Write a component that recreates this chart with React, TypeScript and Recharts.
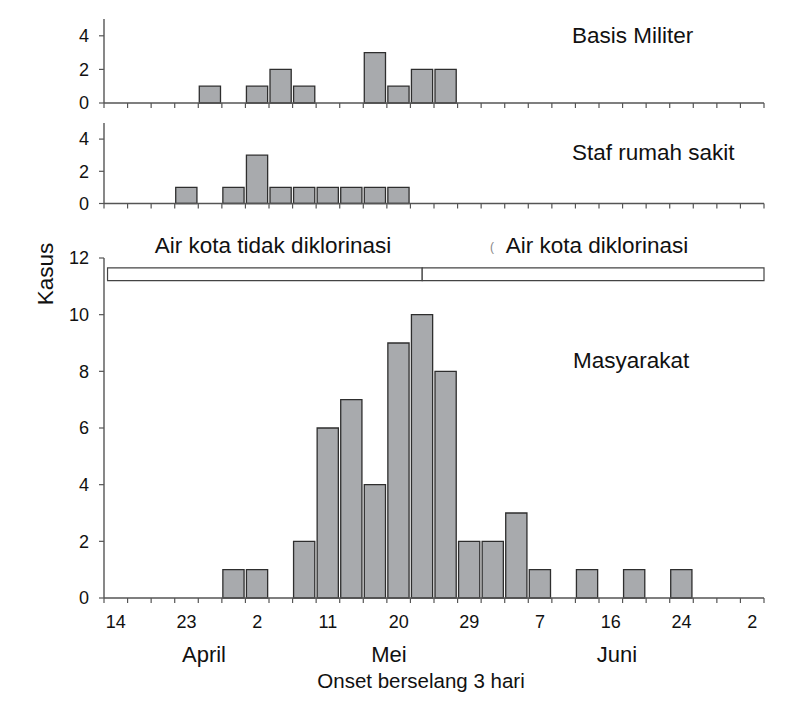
import React from 'react'
import { BarChart, Bar, XAxis, YAxis, ReferenceArea } from 'recharts'

// 3-day onset bins, 14 April .. early July
const BIN_COUNT = 28
const tickLabels = ['14', '23', '2', '11', '20', '29', '7', '16', '24', '2']
const monthLabels = ['April', 'Mei', 'Juni']

const militer = [0, 0, 0, 0, 1, 0, 1, 2, 1, 0, 0, 3, 1, 2, 2, 0, 0, 0, 0, 0, 0, 0, 0, 0, 0, 0, 0, 0]
const staf = [0, 0, 0, 1, 0, 1, 3, 1, 1, 1, 1, 1, 1, 0, 0, 0, 0, 0, 0, 0, 0, 0, 0, 0, 0, 0, 0, 0]
const masyarakat = [0, 0, 0, 0, 0, 1, 1, 0, 2, 6, 7, 4, 9, 10, 8, 2, 2, 3, 1, 0, 1, 0, 1, 0, 1, 0, 0, 0]

// chlorination switch happens mid-bin
const chlorinationBin = 13.5

const FONT = '"Liberation Sans", Arial, Helvetica, sans-serif'
const AXIS = '#555'
const BAR_FILL = '#a8aaad'
const BAR_STROKE = '#2e2e2e'

const W = 800
const LEFT = 104
const PLOT_W = 660
const BW = PLOT_W / BIN_COUNT

const boundaryTicks = Array.from({ length: BIN_COUNT + 1 }, (_, i) => i)

const toRows = (values: number[]) => values.map((v, i) => ({ x: i + 0.5, v }))

function NoTick() {
  return <g />
}

function DateTick({ x, y, payload }: { x?: number; y?: number; payload?: { value: number } }) {
  const v = payload?.value ?? 0
  if (v % 3 !== 0 || v >= BIN_COUNT) return <g />
  return (
    <text x={(x ?? 0) + BW / 2} y={y} dy="0.71em" textAnchor="middle"
      fontSize={18} fill="#111" fontFamily={FONT}>
      {tickLabels[v / 3]}
    </text>
  )
}

interface PanelProps {
  values: number[]
  top: number
  marginTop: number
  plotH: number
  yMax: number
  yTicks: number[]
  xAxisH: number
  dates?: boolean
  children?: React.ReactNode
}

function Panel({ values, top, marginTop, plotH, yMax, yTicks, xAxisH, dates, children }: PanelProps) {
  return (
    <div style={{ position: 'absolute', left: 0, top }}>
      <BarChart
        width={W}
        height={marginTop + plotH + xAxisH}
        data={toRows(values)}
        margin={{ top: marginTop, right: W - LEFT - PLOT_W, bottom: 0, left: LEFT - 60 }}
        barCategoryGap={0}
      >
        <XAxis
          dataKey="x"
          type="number"
          domain={[0, BIN_COUNT]}
          ticks={boundaryTicks}
          interval={0}
          height={xAxisH}
          tickSize={5}
          tickMargin={12}
          stroke={AXIS}
          axisLine={{ stroke: AXIS, strokeWidth: 1.4 }}
          tickLine={{ stroke: AXIS, strokeWidth: 1.2 }}
          tick={dates ? <DateTick /> : <NoTick />}
        />
        <YAxis
          width={60}
          type="number"
          domain={[0, yMax]}
          ticks={yTicks}
          interval={0}
          tickSize={5}
          tickMargin={10}
          stroke={AXIS}
          axisLine={{ stroke: AXIS, strokeWidth: 1.4 }}
          tickLine={{ stroke: AXIS, strokeWidth: 1.2 }}
          tick={{ fontSize: 18, fill: '#111', fontFamily: FONT }}
        />
        {children}
        <Bar dataKey="v" fill={BAR_FILL} stroke={BAR_STROKE} strokeWidth={1.3}
          barSize={BW} isAnimationActive={false} />
      </BarChart>
    </div>
  )
}

export default function App() {
  return (
    <div style={{ position: 'absolute', left: 0, top: 0, width: W, height: 707, background: '#fff', fontFamily: FONT }}>
      <Panel values={militer} top={0} marginTop={19} plotH={84} yMax={5} yTicks={[0, 2, 4]} xAxisH={10} />
      <Panel values={staf} top={110} marginTop={13} plotH={80.5} yMax={5} yTicks={[0, 2, 4]} xAxisH={10} />
      <Panel values={masyarakat} top={230} marginTop={28} plotH={340}
        yMax={12} yTicks={[0, 2, 4, 6, 8, 10, 12]} xAxisH={40} dates>
        <ReferenceArea x1={0.15} x2={chlorinationBin} y1={11.2} y2={11.65}
          fill="#fff" fillOpacity={1} stroke="#444" strokeWidth={1.2} />
        <ReferenceArea x1={chlorinationBin} x2={BIN_COUNT} y1={11.2} y2={11.65}
          fill="#fff" fillOpacity={1} stroke="#444" strokeWidth={1.2} />
      </Panel>

      <svg width={W} height={707} style={{ position: 'absolute', left: 0, top: 0, pointerEvents: 'none' }}
        fontFamily={FONT} fill="#111">
        <text x={572} y={43} fontSize={22.5}>Basis Militer</text>
        <text x={572} y={160} fontSize={22.5}>Staf rumah sakit</text>
        <text x={573} y={368} fontSize={22.5}>Masyarakat</text>

        <text x={273} y={253} fontSize={22.5} textAnchor="middle">Air kota tidak diklorinasi</text>
        <text x={492} y={251} fontSize={12} fill="#888" textAnchor="middle">(</text>
        <text x={597} y={253} fontSize={22.5} textAnchor="middle">Air kota diklorinasi</text>

        <text x={53} y={274} fontSize={22.5} textAnchor="middle" transform="rotate(-90 53 274)">Kasus</text>

        <text x={204} y={662} fontSize={22} textAnchor="middle">{monthLabels[0]}</text>
        <text x={389} y={662} fontSize={22} textAnchor="middle">{monthLabels[1]}</text>
        <text x={617} y={662} fontSize={22} textAnchor="middle">{monthLabels[2]}</text>

        <text x={421} y={688} fontSize={20.5} textAnchor="middle">Onset berselang 3 hari</text>
      </svg>
    </div>
  )
}
